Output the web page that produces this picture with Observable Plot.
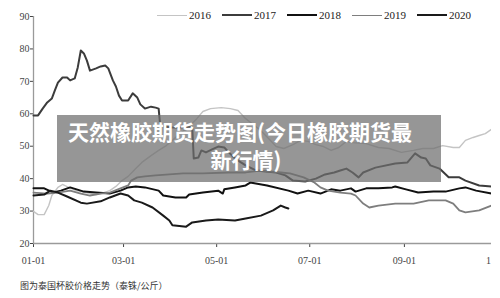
<!DOCTYPE html>
<html><head><meta charset="utf-8">
<script src="https://cdn.jsdelivr.net/npm/d3@7"></script>
<script src="https://cdn.jsdelivr.net/npm/@observablehq/plot@0.6"></script>
<style>
html,body{margin:0;padding:0;background:#fff;overflow:hidden;}
#wrap{position:relative;width:500px;height:298px;overflow:hidden;}
#chart{position:absolute;left:0;top:0;}
#legend{position:absolute;left:157px;top:9px;display:flex;font-family:"Liberation Serif",serif;font-size:11px;line-height:12px;color:#222;}
.item{width:65px;display:flex;align-items:center;}
.sw{display:inline-block;width:30px;height:0;margin-right:2px;}
#title{position:absolute;left:57px;top:115px;width:384px;height:67px;background:rgba(110,110,110,0.72);color:#fff;font-family:"Noto Sans CJK SC",sans-serif;font-weight:bold;font-size:21px;line-height:28px;}
#title .l1{padding-left:11px;padding-top:2px;white-space:nowrap;}
#title .l2{text-align:center;padding-right:6px;}
#caption{position:absolute;left:20px;top:280px;font-family:"Noto Sans CJK SC",sans-serif;font-size:9px;line-height:12px;color:#333;}
#edge{position:absolute;left:491px;top:0;width:9px;height:275px;background:#fff;}
</style>
</head><body>
<div id="wrap">
  <div id="chart"></div>
  <div id="edge"></div>
  <div id="legend"></div>
  <div id="title"><div class="l1">天然橡胶期货走势图(今日橡胶期货最</div><div class="l2">新行情)</div></div>
  <div id="caption">图为泰国杯胶价格走势（泰铢/公斤）</div>
</div>
<script>
const years = ["2016", "2017", "2018", "2019", "2020"];
const colors = ["#c4c4c4", "#3c3c3c", "#111111", "#7e7e7e", "#1a1a1a"];
const widths = [1.4, 2, 2, 1.8, 2];

const xTicks = ["01-01", "03-01", "05-01", "07-01", "09-01", "11-01"];
const yTicks = [20, 30, 40, 50, 60, 70, 80, 90];

const dates2016 = ["01-01","01-04","01-08","01-11","01-13","01-17","01-20","01-24","01-29","02-04","02-11","02-16","02-20","02-24","02-28","03-04","03-09","03-13","03-19","03-24","03-29","04-02","04-07","04-13","04-18","04-22","04-27","05-04","05-10","05-15","05-20","05-25","05-30","06-04","06-09","06-14","06-20","06-25","06-30","07-05","07-10","07-15","07-20","07-25","07-29","08-07","08-15","08-22","08-30","09-07","09-13","09-20","09-26","10-03","10-07","10-11","10-16","10-20","10-24","10-28"];
const values2016 = [29.9,28.9,28.9,31.7,34.8,37.3,38.2,37.3,36.3,35.7,35.1,35.7,36.3,37.6,39.4,40.7,43.1,45.0,47.1,48.7,50.2,51.8,53.9,56.1,58.5,60.7,61.6,61.9,61.6,61.0,58.5,56.7,54.8,52.4,49.9,49.3,50.5,51.8,51.5,50.5,49.9,48.7,49.6,51.5,51.1,50.8,49.6,49.3,48.1,48.7,49.3,49.3,50.2,49.6,49.6,51.8,52.7,53.3,53.9,55.2];

const dates2017 = ["01-01","01-04","01-07","01-10","01-13","01-15","01-17","01-20","01-23","01-25","01-28","01-30","02-01","02-03","02-05","02-07","02-11","02-14","02-17","02-19","02-22","02-24","02-26","02-28","03-04","03-07","03-10","03-12","03-15","03-19","03-22","03-24","03-25","04-01","04-07","04-14","04-15","04-16","04-19","04-21","04-24","04-28","05-02","05-06","05-09","05-13","05-20","05-27","06-02","06-09","06-15","06-20","06-28","07-05","07-11","07-17","07-21","07-25","07-29","08-02","08-05","08-13","08-26","09-03","09-08","09-12","09-15","09-18","09-24","09-30","10-07","10-11","10-20","10-28"];
const values2017 = [59.5,59.5,61.6,63.5,64.7,67.2,69.6,71.2,71.2,70.3,70.9,74.3,79.5,78.6,76.4,73.3,74.0,74.6,74.9,74.0,70.3,68.4,65.6,64.1,64.1,66.3,65.0,62.9,61.6,62.2,61.9,61.6,56.4,55.8,55.8,56.1,55.8,46.2,46.5,48.7,48.1,49.0,49.9,49.6,48.1,46.2,44.1,42.5,42.2,41.9,41.0,39.4,39.1,40.0,41.3,41.9,42.5,43.1,41.9,40.4,41.9,43.4,44.7,45.0,47.8,46.5,46.2,44.1,43.1,40.4,40.4,39.4,37.9,37.6];

const dates2018 = ["01-01","01-08","01-14","01-19","01-25","02-03","02-11","02-20","02-27","03-04","03-09","03-15","03-24","03-27","04-04","04-11","04-13","04-22","05-02","05-05","05-06","05-13","05-20","05-23","06-03","06-17","06-23","06-30","07-08","07-15","07-21","07-28","07-31","08-07","08-15","08-24","08-26","09-02","09-10","09-20","09-28","10-07","10-11","10-18","10-28"];
const values2018 = [37.0,37.0,35.7,36.3,37.3,36.0,35.7,35.4,36.3,37.3,37.6,37.3,36.3,34.8,34.2,34.2,35.1,35.7,36.3,35.4,36.7,37.3,37.9,38.8,37.9,36.3,35.4,36.3,35.4,36.7,36.3,37.0,36.0,37.0,37.0,37.3,37.6,36.7,35.7,36.0,36.0,37.0,37.3,36.3,35.4];

const dates2019 = ["01-01","01-10","01-17","01-25","02-01","02-07","02-14","02-20","02-27","03-04","03-06","03-10","03-15","03-22","03-31","04-09","04-22","05-09","05-20","05-30","06-12","06-18","06-27","07-04","07-08","07-13","07-21","07-28","07-31","08-05","08-09","08-15","08-26","09-07","09-17","09-28","10-03","10-07","10-11","10-20","10-28"];
const values2019 = [35.7,35.4,35.7,36.3,35.4,34.8,35.4,35.7,37.0,37.9,39.4,40.4,40.7,41.0,41.3,41.6,41.6,41.9,41.9,42.5,41.9,41.6,40.4,38.8,37.3,36.3,35.7,35.4,34.8,32.3,31.1,31.7,32.3,32.3,33.3,33.3,32.3,30.2,29.6,30.2,31.7];

const dates2020 = ["01-01","01-08","01-12","01-17","01-23","02-01","02-05","02-14","02-20","02-27","03-04","03-08","03-13","03-20","03-27","03-31","04-02","04-11","04-15","04-24","05-02","05-13","05-20","05-30","06-07","06-12","06-15","06-17"];
const values2020 = [34.8,35.1,36.3,35.7,34.5,32.6,32.3,33.0,34.2,35.4,34.8,33.3,32.6,31.1,28.6,27.1,25.6,25.2,26.5,27.1,27.4,27.1,27.7,28.6,30.2,31.7,31.1,30.8];

const caption = "图为泰国杯胶价格走势（泰铢/公斤）";

// build table
const md = s => { const [m, d] = s.split("-").map(Number); return new Date(Date.UTC(2017, m - 1, d)); };
const seriesDates = [dates2016, dates2017, dates2018, dates2019, dates2020];
const seriesValues = [values2016, values2017, values2018, values2019, values2020];
const data = [];
years.forEach((y, i) => seriesDates[i].forEach((d, j) => data.push({year: y, date: md(d), value: seriesValues[i][j]})));

const x0 = md(xTicks[0]), x1 = md(xTicks[xTicks.length - 1]);
const marks = [
  Plot.ruleY([yTicks[0]], {stroke: "#9a9a9a", strokeWidth: 1.3}),
  Plot.ruleX([x0], {stroke: "#9a9a9a", strokeWidth: 1.3})
];
years.forEach((y, i) => {
  marks.push(Plot.line(data.filter(d => d.year === y), {x: "date", y: "value", stroke: colors[i], strokeWidth: widths[i], strokeLinejoin: "round"}));
});

const chart = Plot.plot({
  width: 500, height: 275,
  marginLeft: 33, marginRight: 3, marginTop: 16, marginBottom: 32,
  style: {fontFamily: "'Liberation Serif', serif", fontSize: "10px", color: "#444", background: "transparent", overflow: "visible"},
  x: {type: "utc", domain: [x0, x1], ticks: xTicks.map(md), tickFormat: d3.utcFormat("%m-%d"), tickSize: 4, tickPadding: 9, label: null},
  y: {domain: [yTicks[0], yTicks[yTicks.length - 1]], ticks: yTicks, tickSize: 3, tickPadding: 1, label: null},
  marks
});
document.getElementById("chart").appendChild(chart);

const lg = document.getElementById("legend");
years.forEach((y, i) => {
  const it = document.createElement("div"); it.className = "item";
  const sw = document.createElement("span"); sw.className = "sw";
  sw.style.borderTop = `${widths[i]}px solid ${colors[i]}`;
  it.appendChild(sw);
  it.appendChild(document.createTextNode(y));
  lg.appendChild(it);
});
document.getElementById("caption").textContent = caption;
</script>
</body></html>
